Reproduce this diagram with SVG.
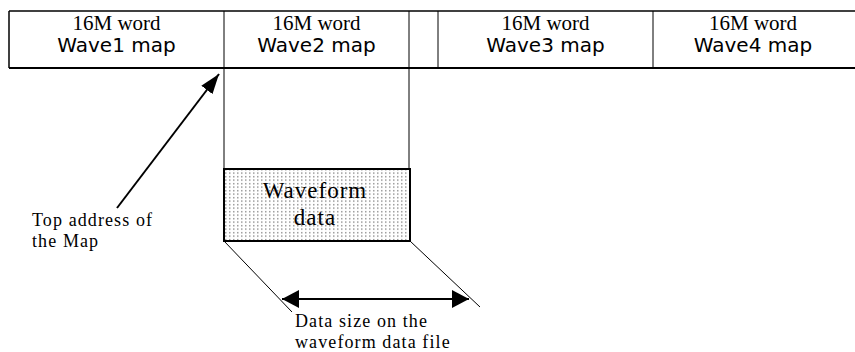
<svg xmlns="http://www.w3.org/2000/svg" width="855" height="352" viewBox="0 0 855 352">
<style>
.serif{font-family:"Liberation Serif","Times New Roman",serif;fill:#000}
.sans{font-family:"DejaVu Sans",sans-serif;fill:#000}
.hdr{font-size:21px}
.map{font-size:20px}
.lbl{font-size:18px;letter-spacing:1.1px}
.ln{stroke:#000;fill:none}
</style>
<defs>
<pattern id="dots" x="0" y="0" width="4" height="3.5" patternUnits="userSpaceOnUse">
<rect width="4" height="3.5" fill="#fff"/>
<rect x="1" y="1" width="1.5" height="1.3" fill="#8a8a8a"/>
</pattern>
<marker id="ah" viewBox="0 0 20 14" refX="20" refY="7" markerWidth="20" markerHeight="14" markerUnits="userSpaceOnUse" orient="auto-start-reverse">
<path d="M0,0 L20,7 L0,14 Z" fill="#000"/>
</marker>
<marker id="ah2" viewBox="0 0 17 18" refX="17" refY="9" markerWidth="17" markerHeight="18" markerUnits="userSpaceOnUse" orient="auto-start-reverse">
<path d="M0,0 L17,9 L0,18 Z" fill="#000"/>
</marker>
</defs>
<rect width="855" height="352" fill="#fff"/>
<g id="map-row">
<line class="ln" x1="9" y1="11" x2="855" y2="11" stroke-width="1.5"/>
<line class="ln" x1="9" y1="68" x2="855" y2="68" stroke-width="2"/>
<line class="ln" x1="9" y1="11" x2="9" y2="68" stroke-width="1.5"/>
</g>
<g id="wave1">
<text class="serif hdr" x="116.5" y="30" text-anchor="middle">16M word</text>
<text class="sans map" x="116.5" y="52" text-anchor="middle">Wave1 map</text>
</g>
<g id="wave2">
<line class="ln" x1="224" y1="11" x2="224" y2="68" stroke-width="1"/>
<text class="serif hdr" x="316.5" y="30" text-anchor="middle">16M word</text>
<text class="sans map" x="316.5" y="52" text-anchor="middle">Wave2 map</text>
</g>
<g id="gap">
<line class="ln" x1="409" y1="11" x2="409" y2="68" stroke-width="1"/>
<line class="ln" x1="438" y1="11" x2="438" y2="68" stroke-width="1"/>
</g>
<g id="wave3">
<text class="serif hdr" x="545.5" y="30" text-anchor="middle">16M word</text>
<text class="sans map" x="545.5" y="52" text-anchor="middle">Wave3 map</text>
</g>
<g id="wave4">
<line class="ln" x1="653" y1="11" x2="653" y2="68" stroke-width="1"/>
<text class="serif hdr" x="753" y="30" text-anchor="middle">16M word</text>
<text class="sans map" x="753" y="52" text-anchor="middle">Wave4 map</text>
</g>
<g id="waveform-data">
<rect x="224" y="169" width="186" height="72" fill="url(#dots)" stroke="#000" stroke-width="2"/>
<text class="serif" x="315" y="198" font-size="23" letter-spacing="1" text-anchor="middle">Waveform</text>
<text class="serif" x="315" y="225" font-size="23" letter-spacing="1" text-anchor="middle">data</text>
</g>
<g id="top-address-label">
<text class="serif lbl" x="32" y="226">Top address of</text>
<text class="serif lbl" x="32" y="247">the Map</text>
</g>
<g id="data-size-label">
<text class="serif lbl" x="295" y="327">Data size on the</text>
<text class="serif lbl" x="295" y="348">waveform data file</text>
</g>
<g id="connectors">
<line class="ln" x1="224" y1="68" x2="224" y2="169" stroke-width="1"/>
<line class="ln" x1="409" y1="68" x2="409" y2="169" stroke-width="1"/>
<line class="ln" x1="224" y1="241" x2="292" y2="312" stroke-width="1"/>
<line class="ln" x1="410" y1="241" x2="480" y2="307" stroke-width="1"/>
<line class="ln" x1="117" y1="208" x2="219" y2="74" stroke-width="2" marker-end="url(#ah)"/>
<line class="ln" x1="282" y1="299" x2="469" y2="299" stroke-width="2" marker-start="url(#ah2)" marker-end="url(#ah2)"/>
</g>
</svg>
